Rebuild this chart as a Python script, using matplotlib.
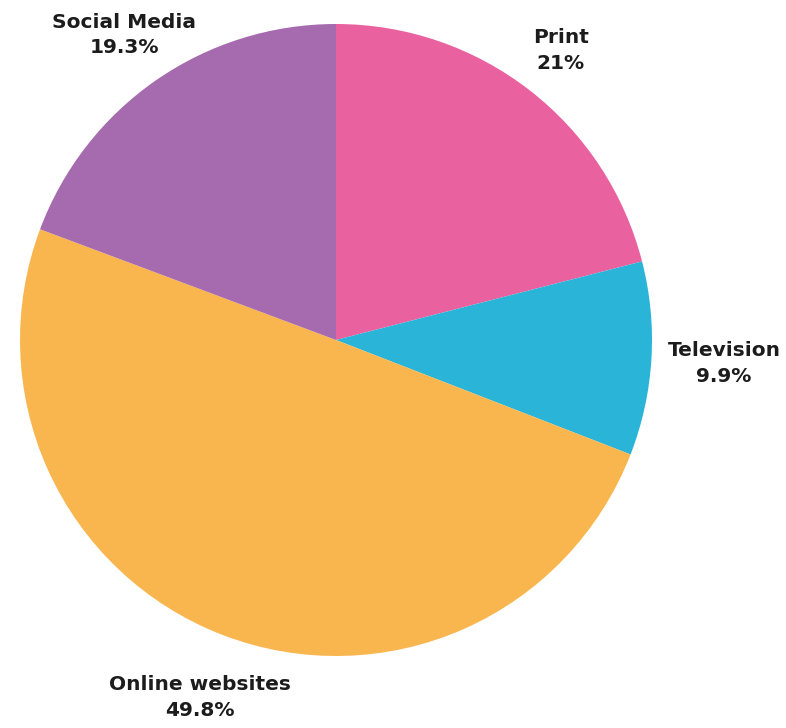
import numpy as np
import matplotlib.pyplot as plt

labels = ["Print", "Television", "Online websites", "Social Media"]
shares = [21.0, 9.9, 49.8, 19.3]
pct_text = ["21%", "9.9%", "49.8%", "19.3%"]
colors = ["#EA619F", "#2AB4D8", "#F9B54E", "#A66AAE"]
label_dist = [1.16, 1.23, 1.21, 1.175]

fig = plt.figure(figsize=(7.86, 7.28), dpi=100)
ax = fig.add_axes([0, 0, 1, 1])

ax.pie(shares, colors=colors, startangle=90, counterclock=False,
       radius=1.0, wedgeprops=dict(linewidth=0))

# labels sit on each slice's middle angle
start = 90.0
for lab, val, txt, d in zip(labels, shares, pct_text, label_dist):
    mid = np.deg2rad(start - val / 100 * 360 / 2)
    start -= val / 100 * 360
    ax.text(d * np.cos(mid), d * np.sin(mid), f"{lab}\n{txt}",
            ha="center", va="center", fontsize=14.5, fontweight="bold",
            family="DejaVu Sans", color="#1c1c1c", linespacing=1.45)

ax.set_xlim(-336 / 316, (786 - 336) / 316)
ax.set_ylim(-(728 - 340) / 316, 340 / 316)
ax.set_aspect("auto")
ax.axis("off")

fig.savefig("out.png", dpi=100, facecolor="white")
